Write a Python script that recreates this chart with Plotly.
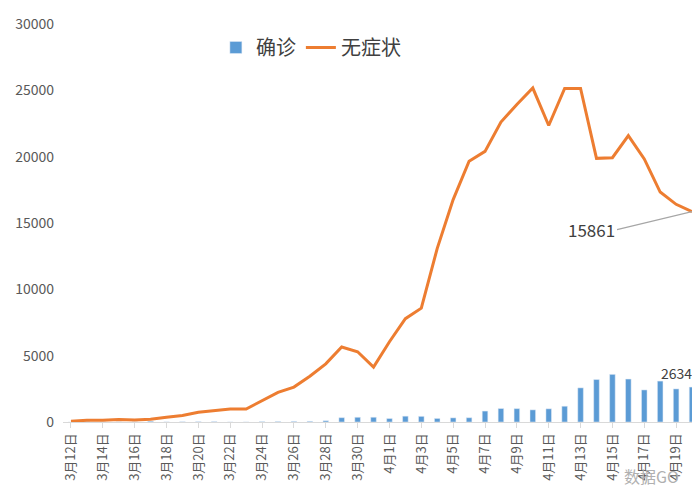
import plotly.graph_objects as go

dates = ["3月12日","3月13日","3月14日","3月15日","3月16日","3月17日","3月18日","3月19日","3月20日","3月21日",
         "3月22日","3月23日","3月24日","3月25日","3月26日","3月27日","3月28日","3月29日","3月30日","3月31日",
         "4月1日","4月2日","4月3日","4月4日","4月5日","4月6日","4月7日","4月8日","4月9日","4月10日",
         "4月11日","4月12日","4月13日","4月14日","4月15日","4月16日","4月17日","4月18日","4月19日","4月20日"]
confirmed = [1,41,9,5,8,57,8,17,24,31,4,4,29,38,45,50,96,326,355,358,260,438,425,268,311,322,824,1015,1006,914,
             994,1189,2573,3200,3590,3238,2417,3084,2494,2634]
asymptomatic = [64,128,130,197,150,203,366,492,734,865,977,979,1580,2231,2631,3450,4381,5656,5298,4144,6051,7788,
                8581,13086,16766,19660,20398,22609,23937,25173,22348,25141,25146,19872,19923,21582,19831,17332,16407,15861]
y_ticks = [0,5000,10000,15000,20000,25000,30000]

fig = go.Figure()
fig.add_bar(x=dates, y=confirmed, name="确诊", marker_color="#5B9BD5", width=0.35)
fig.add_scatter(x=dates, y=asymptomatic, name="无症状", mode="lines",
                line=dict(color="#ED7D31", width=3))

fig.add_annotation(x=dates[-1], y=asymptomatic[-1], text="15861", showarrow=True, arrowhead=0,
                   arrowcolor="#A6A6A6", arrowwidth=1.2, ax=-75, ay=18, xanchor="right",
                   font=dict(size=17, color="#404040"))
fig.add_annotation(x=dates[-1], y=confirmed[-1], text=str(confirmed[-1]), showarrow=False,
                   yshift=14, xshift=-16, font=dict(size=14, color="#404040"))
fig.add_annotation(x=0.97, y=-0.17, xref="paper", yref="paper", text="数据GO", showarrow=False,
                   font=dict(size=16, color="#B0B0B0"))

fig.update_layout(
    width=700, height=500,
    margin=dict(l=55, r=8, t=16, b=86),
    plot_bgcolor="white", paper_bgcolor="white",
    font=dict(family="Noto Sans CJK SC, Liberation Sans, sans-serif", color="#595959"),
    showlegend=True,
    legend=dict(orientation="h", x=0.24, y=0.99, xanchor="left", yanchor="top",
                font=dict(size=20, color="#404040"), bgcolor="rgba(0,0,0,0)"),
)
fig.update_xaxes(type="category", range=[-0.5, 39.5], tickangle=-90,
                 tickvals=dates[::2], ticktext=dates[::2],
                 tickfont=dict(size=13, color="#595959"),
                 showline=True, linecolor="#D9D9D9", ticks="outside", tickcolor="#D9D9D9",
                 showgrid=False, automargin=False)
fig.update_yaxes(range=[0, 30000], tickvals=y_ticks, ticktext=[str(v) for v in y_ticks],
                 showgrid=False, zeroline=False,
                 tickfont=dict(size=14, color="#595959"), ticklabelstandoff=8, automargin=False)

fig.write_html("out.html")
